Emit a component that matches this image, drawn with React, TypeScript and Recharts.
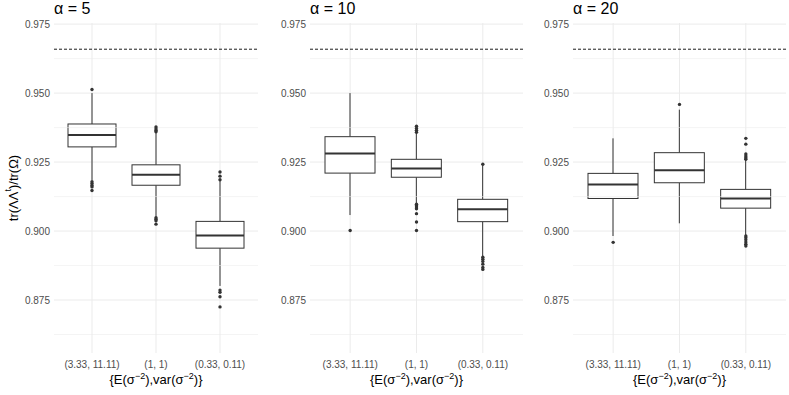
import React from 'react';
import { ComposedChart, Bar, Scatter, XAxis, YAxis, CartesianGrid, ReferenceLine } from 'recharts';

// groups on the x axis
const categories = ['(3.33, 11.11)', '(1, 1)', '(0.33, 0.11)'];

// five-number summaries per group: [lower whisker, Q1, median, Q3, upper whisker]
const alpha5Box = [
  [0.9185, 0.9305, 0.9348, 0.9388, 0.95],
  [0.9052, 0.9166, 0.9204, 0.924, 0.9358],
  [0.8801, 0.8938, 0.8984, 0.9035, 0.9183],
];
const alpha10Box = [
  [0.9058, 0.921, 0.9281, 0.9342, 0.95],
  [0.91, 0.9195, 0.9227, 0.926, 0.9355],
  [0.8909, 0.9034, 0.9079, 0.9115, 0.9238],
];
const alpha20Box = [
  [0.8982, 0.9118, 0.9169, 0.9209, 0.9336],
  [0.9028, 0.9175, 0.922, 0.9284, 0.944],
  [0.8985, 0.9083, 0.9118, 0.9151, 0.9257],
];

// outliers per group
const alpha5Out = [
  [0.9513, 0.9179, 0.9172, 0.9165, 0.916, 0.9147],
  [0.9377, 0.937, 0.9364, 0.936, 0.9048, 0.9043, 0.9037, 0.9025],
  [0.9214, 0.9199, 0.9186, 0.8786, 0.8778, 0.8762, 0.8725],
];
const alpha10Out = [
  [0.9002],
  [0.938, 0.9372, 0.9365, 0.9358, 0.9097, 0.9092, 0.9087, 0.9081, 0.9063, 0.9033, 0.9002],
  [0.9242, 0.8905, 0.8898, 0.889, 0.888, 0.8868, 0.8861],
];
const alpha20Out = [
  [0.8959],
  [0.9459],
  [0.9336, 0.9315, 0.9279, 0.9272, 0.9266, 0.926, 0.8982, 0.8976, 0.8968, 0.896, 0.8952, 0.8946],
];

const yTicks = [0.875, 0.9, 0.925, 0.95, 0.975];
const yMinorTicks = [0.8625, 0.8875, 0.9125, 0.9375, 0.9625];
const yDomain = [0.8558, 0.9754];
const referenceValue = 0.9659;

const FONT = '"Liberation Sans", Arial, Helvetica, sans-serif';
const INK = '#333333';

const BoxShape = (props: any) => {
  const { x, width, payload } = props;
  let { y, height } = props;
  if (height < 0) {
    y = y + height;
    height = -height;
  }
  const k = height / (payload.q3 - payload.q1);
  const cx = x + width / 2;
  const yMed = y + (payload.q3 - payload.med) * k;
  const yHi = y - (payload.hi - payload.q3) * k;
  const yLo = y + height + (payload.q1 - payload.lo) * k;
  return (
    <g>
      <line x1={cx} x2={cx} y1={yHi} y2={y} stroke={INK} strokeWidth={1} />
      <line x1={cx} x2={cx} y1={y + height} y2={yLo} stroke={INK} strokeWidth={1} />
      <rect x={x} y={y} width={width} height={height} fill="#fff" stroke={INK} strokeWidth={1} />
      <line x1={x} x2={x + width} y1={yMed} y2={yMed} stroke={INK} strokeWidth={2} />
    </g>
  );
};

const OutlierDot = (props: any) => {
  if (props.cx == null || props.cy == null) return null;
  return <circle cx={props.cx} cy={props.cy} r={1.7} fill={INK} />;
};

const XTitle = (props: any) => {
  const vb = props.viewBox || {};
  return (
    <text x={vb.x + vb.width / 2} y={vb.y + 31} textAnchor="middle" fontSize={13} fill="#000" fontFamily={FONT}>
      <tspan>{'{E(σ'}</tspan>
      <tspan dy={-5} fontSize={9}>−2</tspan>
      <tspan dy={5}>),var(σ</tspan>
      <tspan dy={-5} fontSize={9}>−2</tspan>
      <tspan dy={5}>{')}'}</tspan>
    </text>
  );
};

const YTitle = (props: any) => {
  const vb = props.viewBox || {};
  const cx = 13;
  const cy = vb.y + vb.height / 2;
  return (
    <text x={cx} y={cy} transform={`rotate(-90 ${cx} ${cy})`} textAnchor="middle" dominantBaseline="central" fontSize={13} fill="#000" fontFamily={FONT}>
      <tspan>tr(ΛΛ</tspan>
      <tspan dy={-5} fontSize={9}>t</tspan>
      <tspan dy={5}>)/tr(Ω)</tspan>
    </text>
  );
};

interface PanelProps {
  title: string;
  box: number[][];
  out: number[][];
  left: number;
  width: number;
  axisWidth: number;
  rightMargin: number;
  pad: number;
  barSize: number;
  showYTitle?: boolean;
}

const Panel = ({ title, box, out, left, width, axisWidth, rightMargin, pad, barSize, showYTitle }: PanelProps) => {
  const data = categories.map((cat, i) => ({
    cat,
    box: [box[i][1], box[i][3]],
    lo: box[i][0],
    q1: box[i][1],
    med: box[i][2],
    q3: box[i][3],
    hi: box[i][4],
  }));
  const outliers = categories.flatMap((cat, i) => out[i].map(v => ({ cat, v })));

  return (
    <div style={{ position: 'absolute', left, top: 0, width, height: 395 }}>
      <div
        style={{
          position: 'absolute',
          left: axisWidth,
          top: 0,
          fontSize: 16,
          lineHeight: '18px',
          fontFamily: FONT,
          color: '#000',
          whiteSpace: 'nowrap',
        }}
      >
        {title}
      </div>
      <ComposedChart width={width} height={395} data={data} margin={{ top: 23, right: rightMargin, bottom: 2, left: 0 }}>
        <CartesianGrid stroke="#ebebeb" strokeWidth={1} syncWithTicks />
        {yMinorTicks.map(v => (
          <ReferenceLine key={v} y={v} stroke="#ebebeb" strokeWidth={0.55} />
        ))}
        <XAxis
          dataKey="cat"
          type="category"
          allowDuplicatedCategory={false}
          padding={{ left: pad, right: pad }}
          height={40}
          axisLine={false}
          tickLine={false}
          interval={0}
          tick={{ fontSize: 10, fill: '#4d4d4d', fontFamily: FONT }}
          label={<XTitle />}
        />
        <YAxis
          type="number"
          domain={yDomain}
          allowDataOverflow
          ticks={yTicks}
          tickFormatter={(v: number) => v.toFixed(3)}
          width={axisWidth}
          axisLine={false}
          tickLine={false}
          tickSize={2}
          tickMargin={2}
          tick={{ fontSize: 10, fill: '#4d4d4d', fontFamily: FONT }}
          label={showYTitle ? <YTitle /> : undefined}
        />
        <ReferenceLine y={referenceValue} stroke="#000" strokeWidth={0.9} strokeDasharray="3 2" />
        <Bar dataKey="box" barSize={barSize} shape={<BoxShape />} isAnimationActive={false} />
        <Scatter data={outliers} dataKey="v" shape={<OutlierDot />} isAnimationActive={false} />
      </ComposedChart>
    </div>
  );
};

const App = () => {
  return (
    <div style={{ position: 'absolute', left: 0, top: 0, width: 789, height: 395, background: '#fff', overflow: 'hidden' }}>
      <Panel title="α = 5" box={alpha5Box} out={alpha5Out} left={0} width={262} axisWidth={54} rightMargin={4} pad={6} barSize={48} showYTitle />
      <Panel title="α = 10" box={alpha10Box} out={alpha10Out} left={262} width={265} axisWidth={48} rightMargin={4} pad={7} barSize={50} />
      <Panel title="α = 20" box={alpha20Box} out={alpha20Out} left={527} width={262} axisWidth={46} rightMargin={3} pad={7} barSize={50} />
    </div>
  );
};

export default App;
